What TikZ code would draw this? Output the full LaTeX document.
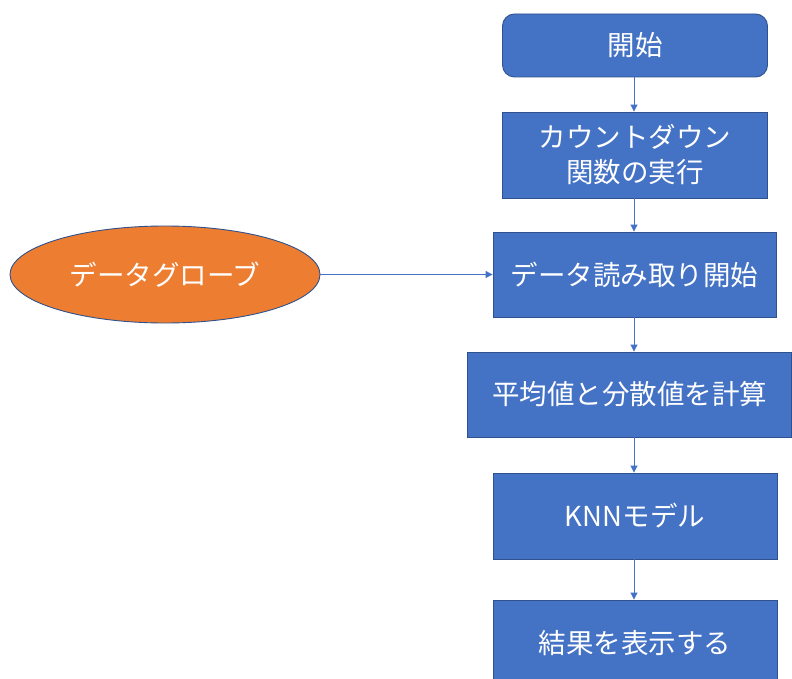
\documentclass[tikz,border=0pt]{standalone}
\usepackage{fontspec}
\newfontfamily\jp{Noto Sans CJK JP}
\usetikzlibrary{shapes.geometric,arrows.meta}
\definecolor{boxblue}{HTML}{4472C4}
\definecolor{edgeblue}{HTML}{2F528F}
\definecolor{fillorange}{HTML}{ED7D31}
\tikzset{
  x=1pt,y=-1pt,
  txt/.style={text=white,font=\jp\fontsize{27.5}{35}\selectfont},
  stepbox/.style={txt,draw=edgeblue,fill=boxblue,line width=0.9pt,align=center,inner sep=0pt},
  conn/.style={draw=boxblue,line width=1pt,-{Triangle[length=7pt,width=7pt]}}
}
\begin{document}
\begin{tikzpicture}
\useasboundingbox (0,0) rectangle (792,679);
\clip (0,0) rectangle (792,679);
\fill[white] (0,0) rectangle (792,679);
\node[stepbox,rounded corners=12pt,minimum width=265pt,minimum height=63pt] (start) at (635,45.5) {開始};
\node[stepbox,minimum width=265pt,minimum height=86pt] (count) at (635,155) {カウントダウン\\関数の実行};
\node[stepbox,minimum width=283pt,minimum height=85pt] (read) at (634.5,274.5) {データ読み取り開始};
\node[stepbox,minimum width=324pt,minimum height=85pt] (calc) at (629.5,394.5) {平均値と分散値を計算};
\node[stepbox,minimum width=284pt,minimum height=86pt] (knn) at (635,516) {KNNモデル};
\node[stepbox,minimum width=284pt,minimum height=86pt] (res) at (635,643) {結果を表示する};
\node[ellipse,txt,draw=edgeblue,fill=fillorange,line width=0.9pt,minimum width=310pt,minimum height=97pt,inner sep=0pt] (glove) at (165,274.5) {データグローブ};
\draw[conn] (start.south -| 634,0) -- (count.north -| 634,0);
\draw[conn] (count.south -| 634,0) -- (read.north -| 634,0);
\draw[conn] (read.south -| 634,0) -- (calc.north -| 634,0);
\draw[conn] (calc.south -| 634,0) -- (knn.north -| 634,0);
\draw[conn] (knn.south -| 634,0) -- (res.north -| 634,0);
\draw[conn] (glove.east) -- (read.west);
\end{tikzpicture}
\end{document}
